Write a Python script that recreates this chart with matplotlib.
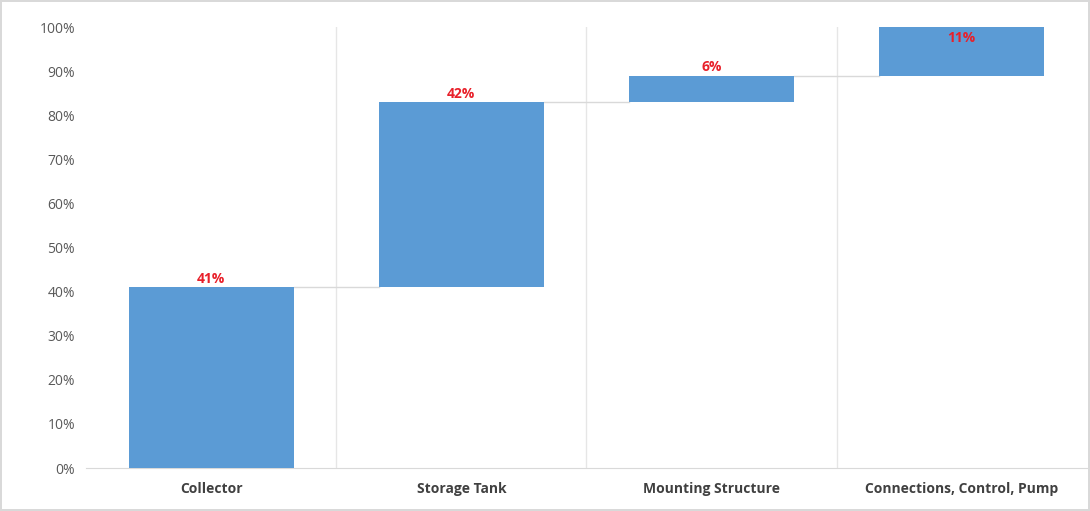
import numpy as np
import matplotlib.pyplot as plt
from matplotlib.ticker import PercentFormatter, FixedLocator

categories = ["Collector", "Storage Tank", "Mounting Structure", "Connections, Control, Pump"]
shares = [41, 42, 6, 11]
labels = ["41%", "42%", "6%", "11%"]

plt.rcParams['font.family'] = ['Open Sans', 'DejaVu Sans']

bases = np.concatenate([[0], np.cumsum(shares)[:-1]])
tops = bases + np.array(shares)
x = np.arange(len(categories))
w = 0.66

fig = plt.figure(figsize=(10.9, 5.11), dpi=100)
fig.patch.set_edgecolor('#d9d9d9')
fig.patch.set_linewidth(1.5)
ax = fig.add_axes([0.079, 0.084, 0.918, 0.863])

ax.bar(x, shares, bottom=bases, width=w, color='#5b9bd5', zorder=3)

# connector lines between bars
for i in range(len(x) - 1):
    ax.plot([x[i] + w / 2, x[i + 1] - w / 2], [tops[i], tops[i]],
            color='#d9d9d9', lw=1, zorder=2)

for xi, t, lab in zip(x, tops, labels):
    if t >= 100:
        ax.text(xi, t - 0.8, lab, ha='center', va='top', color='#e8202a',
                fontsize=10, fontweight='bold', zorder=4)
    else:
        ax.text(xi, t + 0.3, lab, ha='center', va='bottom', color='#e8202a',
                fontsize=10, fontweight='bold', zorder=4)

ax.set_xlim(-0.5, len(x) - 0.5)
ax.set_ylim(0, 100)
ax.set_yticks(np.arange(0, 101, 10))
ax.yaxis.set_major_formatter(PercentFormatter(decimals=0))
ax.set_xticks(x)
ax.set_xticklabels(categories, fontweight='bold', fontsize=10, color='#404040')
ax.xaxis.set_minor_locator(FixedLocator(x[:-1] + 0.5))
ax.grid(which='minor', axis='x', color='#e6e6e6', lw=1, zorder=0)
ax.tick_params(axis='y', labelsize=10, labelcolor='#595959', length=0, pad=8)
ax.tick_params(axis='x', which='both', length=0, pad=10)

for s in ['top', 'right', 'left']:
    ax.spines[s].set_visible(False)
ax.spines['bottom'].set_color('#d9d9d9')

fig.savefig('out.png', dpi=100)
